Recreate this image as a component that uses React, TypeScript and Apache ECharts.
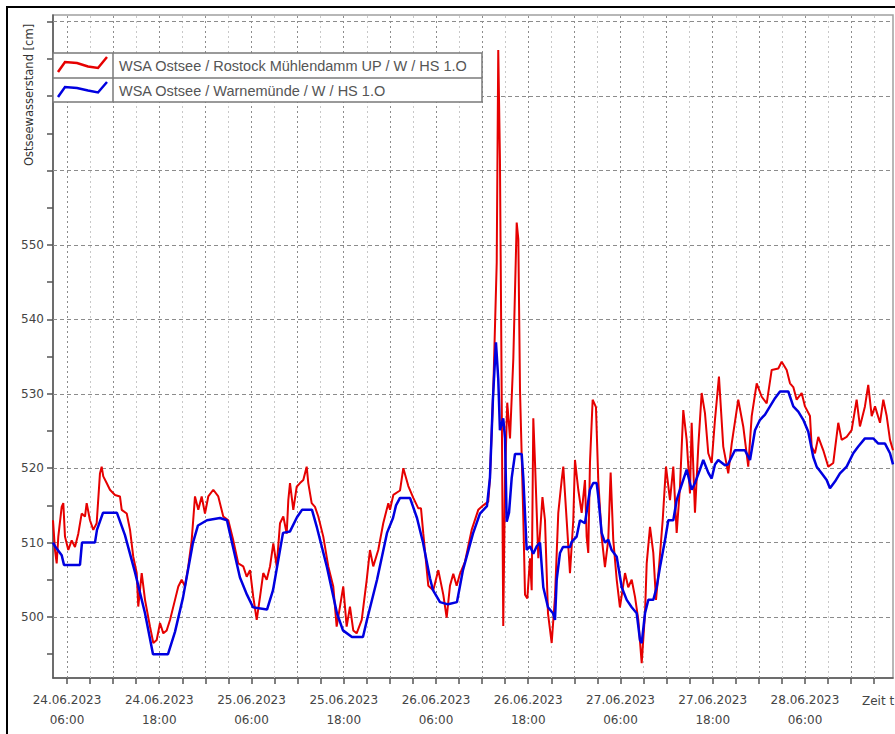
import React, { useEffect, useRef } from 'react';
import * as echarts from 'echarts';

// Hours since 24.06.2023 00:00
const redHours = [4.18,4.44,4.66,4.87,5.31,5.52,5.74,6.17,6.61,7.04,7.47,7.91,8.34,8.56,8.99,9.42,9.86,10.29,10.51,10.72,11.16,11.59,12.24,12.89,13.12,13.77,14.2,14.62,15.07,15.27,15.72,16.15,16.8,17.23,17.67,18.1,18.53,18.97,19.4,20.05,20.48,20.92,21.35,21.78,22.22,22.65,23.08,23.52,23.95,24.38,25.03,25.68,26.33,26.98,27.63,28.28,28.93,29.38,29.81,30.23,30.68,31.11,31.53,31.98,32.41,32.84,33.28,33.71,34.14,34.58,34.79,35.01,35.44,35.88,36.31,36.74,37.18,37.39,37.83,38.26,38.69,39.34,39.99,40.64,41.08,41.51,41.94,42.38,42.81,43.24,43.68,44.34,44.99,45.41,45.84,46.49,47.14,47.8,48.02,48.45,49.32,49.75,50.4,51.05,51.7,52.05,52.35,53.0,53.65,54.3,54.95,55.39,55.82,56.25,56.69,57.12,57.77,58.64,59.5,60.15,60.8,61.02,61.45,61.9,62.1,62.32,62.55,62.75,62.98,63.27,63.63,64.06,64.5,64.71,64.93,65.36,65.58,65.88,66.23,66.45,66.66,66.88,67.31,67.85,68.18,68.57,69.05,69.48,69.91,70.35,70.56,71.0,71.43,71.86,72.08,72.51,72.95,73.38,73.6,73.81,74.03,74.38,74.81,75.11,75.55,75.98,76.41,76.72,77.06,77.51,77.93,78.59,79.01,79.46,79.89,80.32,80.76,81.19,81.41,81.84,82.27,82.62,83.05,83.49,83.92,84.44,84.87,85.31,85.74,86.17,86.61,87.04,87.26,87.69,88.12,88.56,88.99,89.42,89.86,90.29,90.81,91.37,92.02,92.47,93.32,93.97,94.62,95.07,95.72,96.37,97.02,97.67,98.53,98.97,99.62,100.05,100.48,100.92,101.57,102.0,102.65,102.87,103.3,103.73,104.38,105.03,105.68,106.33,106.77,107.42,108.07,108.72,109.15,109.8,110.23,110.68,111.11,111.76,112.19,112.63,113.06,113.45];
const redLevels = [513,509,507.2,510.8,514.8,515.3,510.8,509,510.3,509.4,511.2,513.9,513.5,515.3,513,511.7,512.6,519.3,520.2,518.9,518,517.1,516.4,516.2,514.4,513.9,511.7,508.1,505.9,501.4,505.9,502.3,498.7,496.5,496.9,499.2,497.8,498.2,499.6,502.3,504.1,505,504.1,506.8,510.3,516.2,514.4,516.2,513.9,516.2,517.1,516.2,513.5,513,510.3,507.2,506.8,505.4,506.3,502.7,499.6,502.7,505.9,505,506.8,509.9,506.8,512.6,513.5,511.2,515.7,518,514.4,517.5,518,518.4,520.2,518,515.3,514.8,513.5,510.8,506.8,504.1,498.7,501.4,504.1,498.7,501.4,498.2,497.8,499.6,505,509,506.8,509,512.6,515.3,514.4,516.4,517,520,517.6,516,514.6,514.6,511.2,504.2,503.6,506.3,503,499.9,504.2,505.8,504.2,505.8,507.4,511.7,514.4,515,515.5,518.7,530.4,547.6,576.2,561.5,529.4,498.8,518.7,528.8,524,534.7,553,550.8,530.4,513.3,503,502.5,507.9,503.6,526.7,520.8,507.9,516.1,513,500.5,496.5,502.7,514,518.4,520.2,513,505.9,513,521.1,517.1,514,518.4,510.8,508.6,520.7,529.2,528.2,518.4,510.8,506.7,510.4,519.4,510.4,505,501.3,505.9,504,505,502.7,499.6,493.8,500.5,507.2,512.1,508.6,502.3,507.2,513,520.2,515.7,520.2,511.3,517.5,527.8,523.8,516.6,526.1,514,522.9,530.1,527.4,522,520.7,526.5,532.3,522.9,519.3,523.3,529.2,525.6,520.2,527,531.4,529.6,528.7,533.2,533.4,534.3,533.2,531.4,530.9,529.2,530.1,528.3,527,522.9,522,524.2,522.4,520.2,520.7,526.1,523.8,524.2,525.1,529.2,525.6,528.3,531.2,527,528.3,526.1,529.2,527,523.8,522.4];

const blueHours = [4.18,4.44,5.31,5.61,7.69,7.95,9.64,9.9,10.68,12.5,13.54,14.85,16.15,17.19,19.14,20.05,21.09,22.39,23.04,24.21,25.9,26.81,27.46,28.5,29.41,30.2,32.02,32.8,34.1,35.01,35.92,36.57,37.87,38.52,39.82,41.12,41.9,43.07,44.5,45.02,46.33,47.63,48.41,48.8,49.32,50.62,51.53,52.31,53.22,53.61,54.52,55.56,56.73,57.51,58.81,59.72,60.63,61.02,61.41,61.8,62.1,62.32,62.75,62.98,63.2,63.5,63.85,64.28,65.15,65.36,65.8,66.23,66.66,67.1,67.53,67.96,68.57,69.22,69.48,69.7,70.13,70.52,71.43,71.65,72.3,72.73,73.38,74.03,74.46,74.9,75.11,75.55,75.98,76.41,76.85,77.51,78.16,78.81,79.46,80.11,80.54,80.76,81.19,81.62,82.27,82.71,83.14,83.79,84.22,84.87,85.31,85.74,86.61,87.26,87.69,88.34,88.77,89.42,89.86,90.29,90.72,91.59,91.98,92.89,94.2,94.85,95.5,96.15,96.8,97.45,98.1,98.75,99.83,100.48,101.13,101.78,102.43,103.08,103.52,104.17,104.82,105.25,105.9,106.55,107.42,108.28,108.93,109.8,110.88,111.54,112.41,113.06,113.45];
const blueLevels = [510,509.5,508.3,507,507,510,510,511.7,514,514,511,506,500.5,495,495,498,502.6,510,512.3,513,513.3,513,510,505.3,503,501.3,501,503.6,511.3,511.5,513.4,514.4,514.4,512,506.7,500.5,498.2,497.3,497.3,499.6,505,511.3,513.3,515,516,516,513.3,510,505.2,503.6,502,501.7,502,506.3,511.2,513.9,514.9,518.7,529.4,536.9,532,525.1,526.7,524,512.8,514,518.7,521.9,521.9,518.7,509,509.5,508.5,509.5,510,504,501.3,500.5,499.6,505,508.6,509.4,509.4,510.1,510.8,513,512.6,517.1,518,518,516.2,511.3,510,510.4,509,508.1,504,502.3,501.3,500.5,496.9,496.5,500.5,502.3,502.3,504,506.7,510.3,513,513,515.7,517.1,519.8,517.1,518,519.8,521.1,519.4,518.6,520.5,521.1,520.4,520.5,522.4,522.4,521.1,525.1,526.5,527.2,528.3,529.4,530.3,530.3,528.3,527.6,526.5,524.9,521.5,520.2,519.3,518.4,517.3,518.2,519.3,520.2,522,522.9,524,524,523.3,523.3,522,520.5];

const seriesNames = ['WSA Ostsee / Rostock Mühlendamm UP / W / HS 1.O', 'WSA Ostsee / Warnemünde / W / HS 1.O'];
const yAxisTitle = 'Ostseewasserstand [cm]';
const xAxisTitle = 'Zeit t';

const xTickHours = [6,9,12,15,18,21,24,27,30,33,36,39,42,45,48,51,54,57,60,63,66,69,72,75,78,81,84,87,90,93,96,99,102,105,108,111];
const xLabelHours = [6,18,30,42,54,66,78,90,102];
const yTickValues = [495,500,505,510,515,520,525,530,535,540,545,550,555,560,565,570,575,580];
const yLabelValues = [500,510,520,530,540,550];
const yGridValues = [500,510,520,530,540,550,560,570,580];

const FONT = 'DejaVu Sans';
const LEGEND_FONT = 'Liberation Sans';

export default function App() {
  const ref = useRef<HTMLDivElement>(null);
  useEffect(() => {
    if (!ref.current) return;
    const chart = echarts.init(ref.current, null, { renderer: 'svg' });
    const red = redHours.map((h, i) => [h, redLevels[i]]);
    const blue = blueHours.map((h, i) => [h, blueLevels[i]]);
    const gridLines: any[] = [
      ...xTickHours.map((h) => ({
        xAxis: h,
        lineStyle: { color: h % 6 === 0 ? '#8c8c8c' : '#c8c8c8', type: [2, 3], width: 1 },
      })),
      ...yGridValues.map((v) => ({
        yAxis: v,
        lineStyle: { color: '#8c8c8c', type: [4, 3], width: 1 },
      })),
    ];
    const pad = (n: number) => (n < 10 ? '0' + n : '' + n);
    const option: any = {
      animation: false,
      backgroundColor: '#ffffff',
      grid: {
        left: 53, top: 15, right: 2, bottom: 56,
        show: true, borderColor: '#a0a0a0', borderWidth: 1.5, backgroundColor: 'transparent',
        containLabel: false, outerBoundsMode: 'none',
      },
      xAxis: {
        type: 'value', min: 4.18, max: 113.45,
        axisLine: { show: true, lineStyle: { color: '#555', width: 1.5 } },
        axisTick: { show: true, customValues: xTickHours, length: 6, lineStyle: { color: '#555', width: 1.5 } },
        axisLabel: {
          show: true, customValues: xLabelHours, margin: 12, color: '#444', fontFamily: FONT, fontSize: 12, lineHeight: 20,
          formatter: (v: number) => {
            const day = 24 + Math.floor(v / 24);
            const hh = Math.round(v % 24);
            return `${day}.06.2023\n${pad(hh)}:00`;
          },
        },
        splitLine: { show: false },
      },
      yAxis: {
        type: 'value', min: 491.8, max: 580.9,
        axisLine: { show: true, lineStyle: { color: '#555', width: 1.5 } },
        axisTick: { show: true, customValues: yTickValues, length: 6, lineStyle: { color: '#555', width: 1.5 } },
        axisLabel: { show: true, customValues: yLabelValues, margin: 9, color: '#444', fontFamily: FONT, fontSize: 12 },
        splitLine: { show: false },
      },
      series: [
        {
          name: seriesNames[0], type: 'line', data: red, showSymbol: false, symbol: 'none', z: 2,
          lineStyle: { color: '#e60000', width: 2 },
          markLine: {
            silent: true, symbol: ['none', 'none'], label: { show: false }, emphasis: { disabled: true },
            z: 1, animation: false, data: gridLines,
          },
        },
        {
          name: seriesNames[1], type: 'line', data: blue, showSymbol: false, symbol: 'none', z: 3,
          lineStyle: { color: '#0000e0', width: 2.5 },
        },
      ],
      graphic: [
        { type: 'rect', z: 100, silent: true, shape: { x: 53, y: 53, width: 429, height: 49 }, style: { fill: '#fff', stroke: '#7a7a7a', lineWidth: 1.5 } },
        { type: 'line', z: 101, silent: true, shape: { x1: 53, y1: 78, x2: 482, y2: 78 }, style: { stroke: '#7a7a7a', lineWidth: 1.5 } },
        { type: 'line', z: 101, silent: true, shape: { x1: 113, y1: 53, x2: 113, y2: 102 }, style: { stroke: '#7a7a7a', lineWidth: 1.5 } },
        { type: 'polyline', z: 101, silent: true, shape: { points: [[58, 72], [65, 62], [77, 63], [88, 66.5], [98, 68], [107, 57]] }, style: { stroke: '#e60000', lineWidth: 2.5, fill: 'none' } },
        { type: 'polyline', z: 101, silent: true, shape: { points: [[58, 97], [65, 87], [77, 88], [88, 90.5], [98, 92.5], [107, 82]] }, style: { stroke: '#0000e0', lineWidth: 2.5, fill: 'none' } },
        { type: 'text', z: 101, silent: true, x: 119, y: 66, style: { text: seriesNames[0], fill: '#555', fontFamily: LEGEND_FONT, fontSize: 14.5, align: 'left', verticalAlign: 'middle' } },
        { type: 'text', z: 101, silent: true, x: 119, y: 90.5, style: { text: seriesNames[1], fill: '#555', fontFamily: LEGEND_FONT, fontSize: 14.5, align: 'left', verticalAlign: 'middle' } },
        { type: 'text', z: 101, silent: true, x: 29, y: 95, rotation: Math.PI / 2, style: { text: yAxisTitle, fill: '#333', fontFamily: FONT, fontSize: 11.5, align: 'center', verticalAlign: 'middle' } },
        { type: 'text', z: 101, silent: true, x: 862, y: 701, style: { text: xAxisTitle, fill: '#444', fontFamily: FONT, fontSize: 12, align: 'left', verticalAlign: 'middle' } },
        { type: 'rect', z: 102, silent: true, shape: { x: 7, y: 7, width: 900, height: 740 }, style: { fill: 'none', stroke: '#000', lineWidth: 2 } },
      ],
    };
    chart.setOption(option);
    return () => chart.dispose();
  }, []);
  return <div ref={ref} style={{ position: 'fixed', left: 0, top: 0, width: 895, height: 734, background: '#fff' }} />;
}
